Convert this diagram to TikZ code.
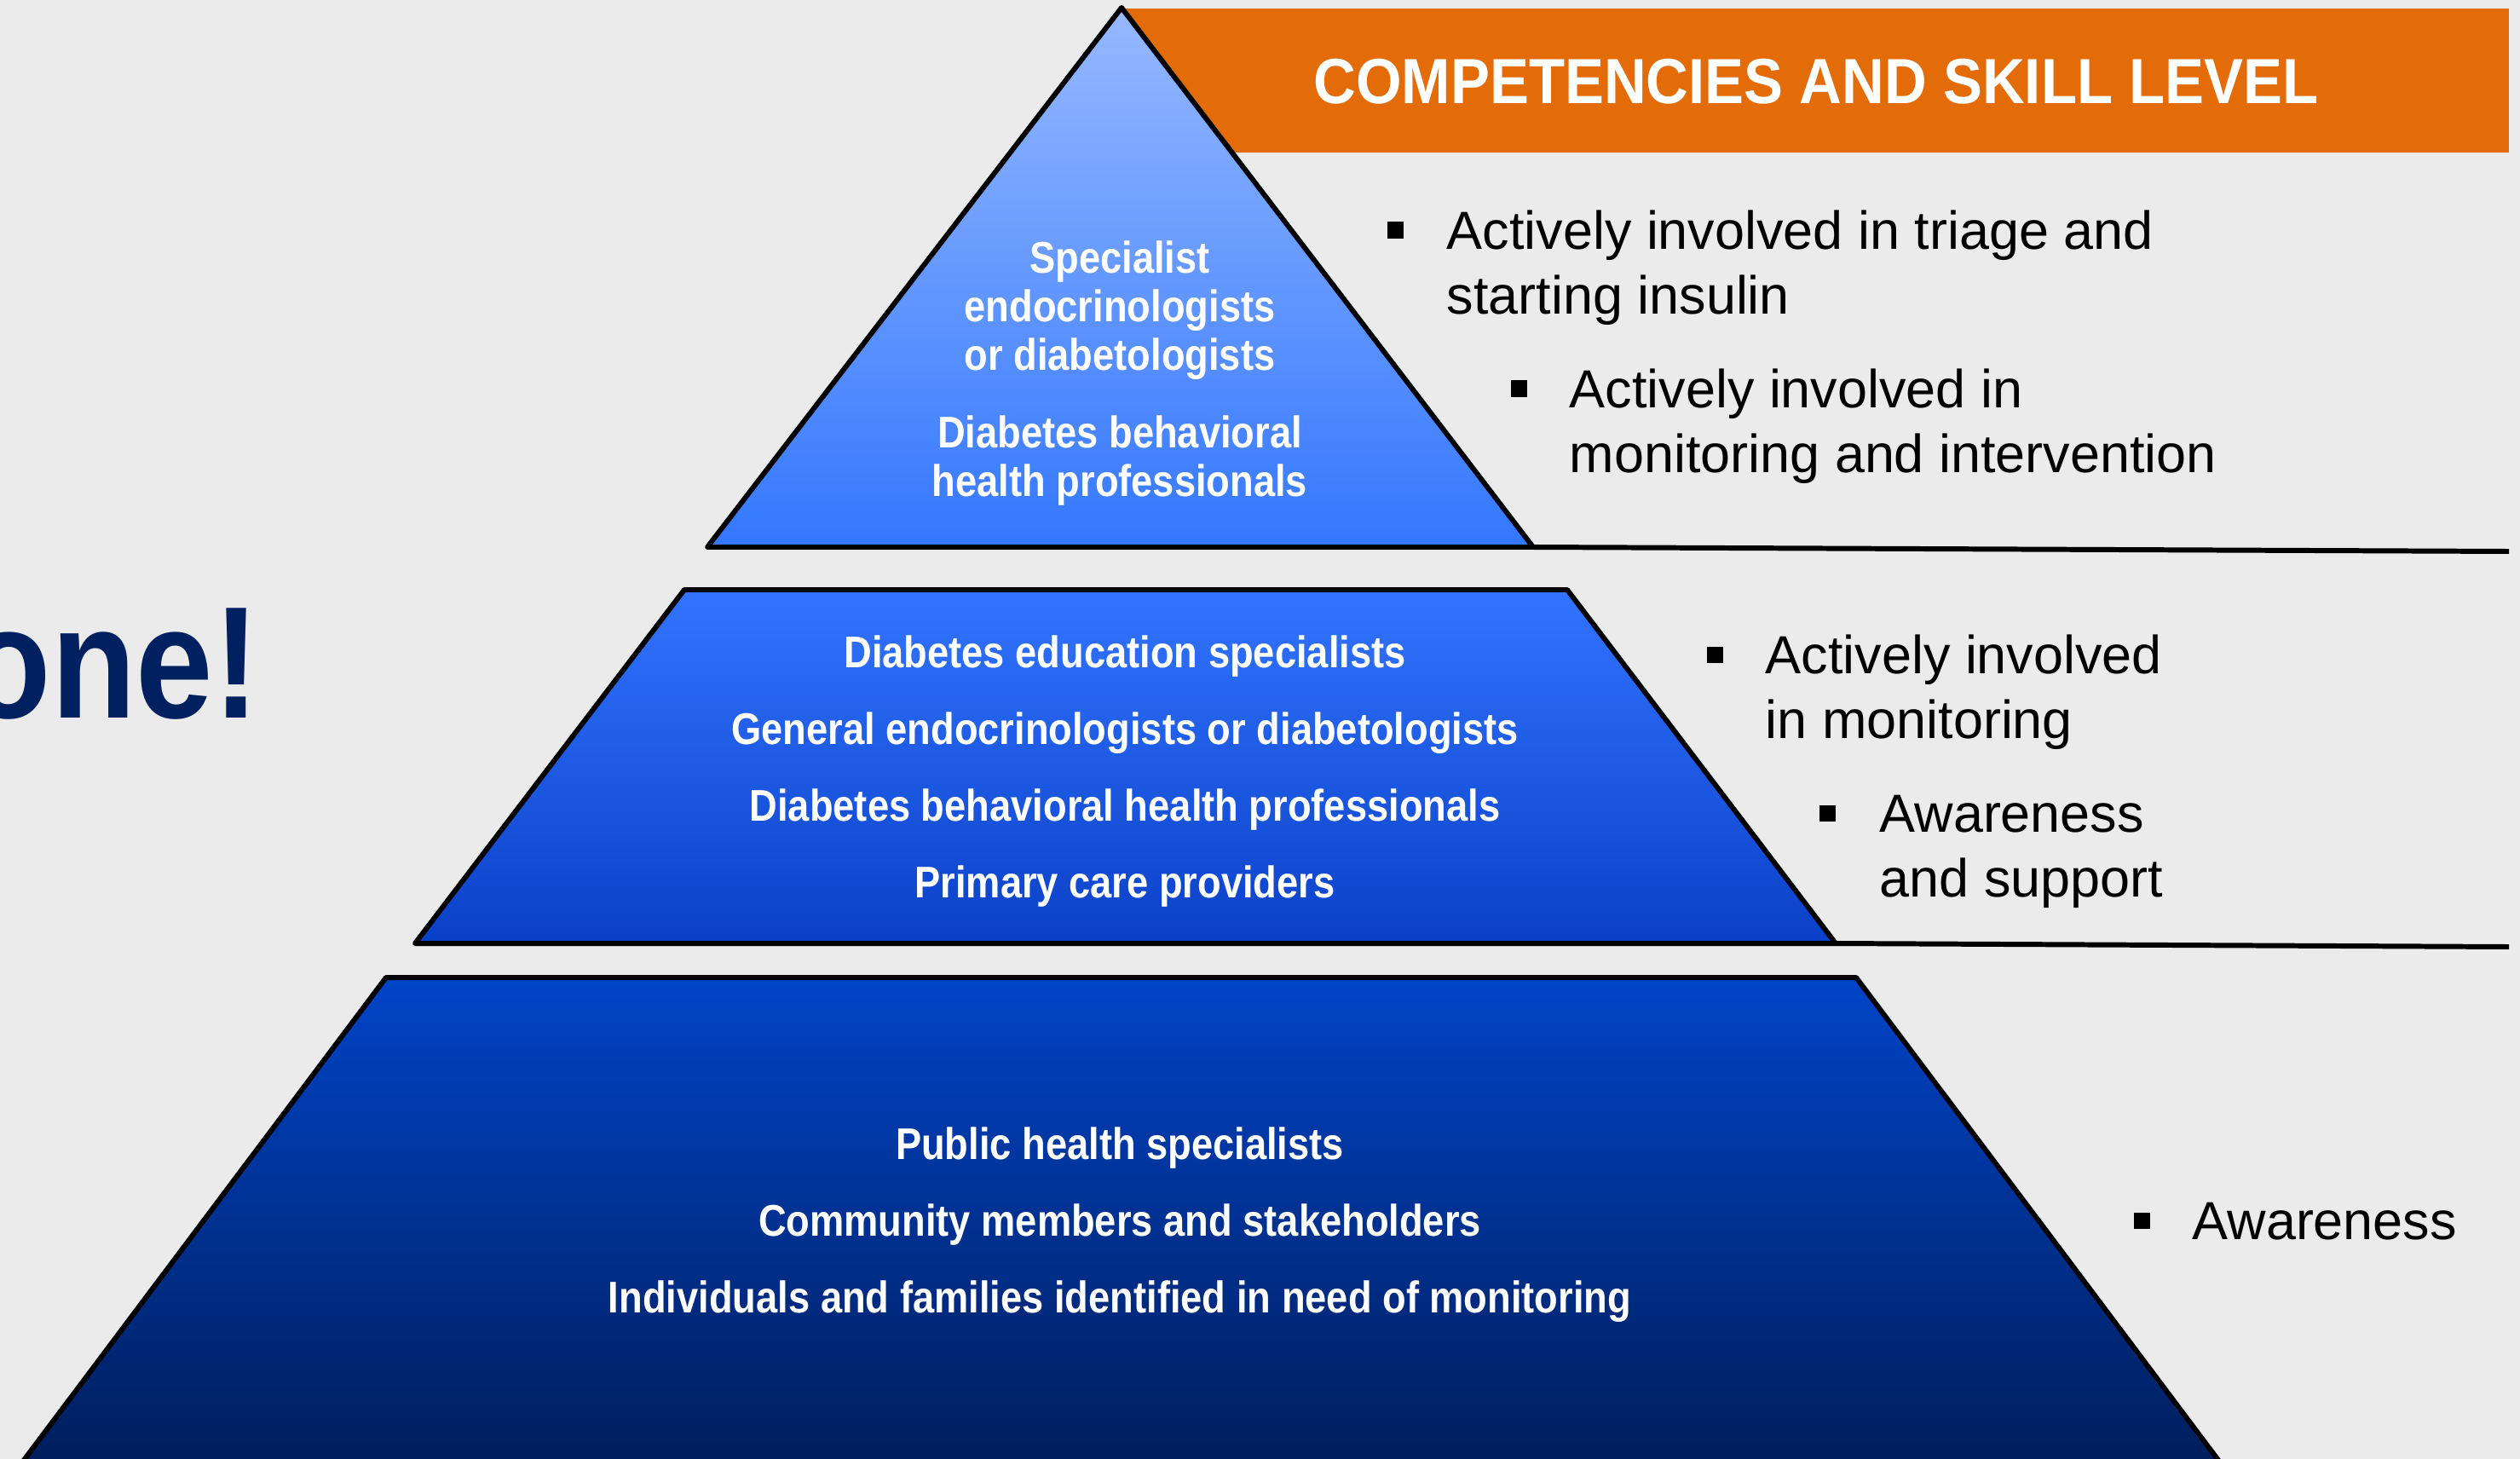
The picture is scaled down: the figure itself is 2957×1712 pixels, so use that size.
\documentclass[tikz,border=0pt]{standalone}
\usepackage{fontspec}
\setmainfont{Liberation Sans}
\newfontfamily\pyrfont[FakeStretch=0.87]{Liberation Sans}
\newfontfamily\bannerfont[FakeStretch=0.92]{Liberation Sans}
\usepackage{xcolor}
\usepackage{tikz}
\usetikzlibrary{positioning}

\definecolor{pagebg}{HTML}{EBEBEB}
\definecolor{bannerorange}{HTML}{E36C09}
\definecolor{navytext}{HTML}{002060}
\definecolor{tiplight}{HTML}{96B9FF}
\definecolor{tipdark}{HTML}{3377FF}
\definecolor{midtop}{HTML}{3274FF}
\definecolor{midbottom}{HTML}{0A40C8}
\definecolor{basetop}{HTML}{0044C8}
\definecolor{basemid}{HTML}{0038A8}
\definecolor{basebottom}{HTML}{001E5C}

\tikzset{
  tierline/.style={draw=black, line width=1.7pt, line join=round},
  splitline/.style={draw=black, line width=1.7pt},
  pyrtext/.style={text=white, font=\pyrfont\bfseries\fontsize{14.8pt}{25.5pt}\selectfont, align=center, anchor=base, inner sep=0pt},
  tiptext/.style={pyrtext, font=\pyrfont\bfseries\fontsize{14.8pt}{16.2pt}\selectfont},
  itemtext/.style={text=black, font=\fontsize{17.9pt}{21.4pt}\selectfont, align=left, anchor=base west, inner sep=0pt},
  bulletsq/.style={fill=black, minimum size=0.19cm, inner sep=0pt}
}

\begin{document}
\begin{tikzpicture}[x=0.01cm, y=-0.01cm]
  \fill[pagebg] (0,0) rectangle (2957,1712);
  \useasboundingbox (0,0) rectangle (2957,1712);
  \clip (0,0) rectangle (2957,1712);

  % title cut at the left edge
  \node[text=navytext, font=\pyrfont\bfseries\fontsize{53.2pt}{60pt}\selectfont, anchor=base east, inner sep=0pt] (slogan) at (305,842) {one!};

  % header banner
  \fill[bannerorange] (1316,10) rectangle (2944,179);
  \node[text=white, font=\bannerfont\bfseries\fontsize{21.3pt}{24pt}\selectfont, anchor=base, inner sep=0pt] (banner) at (2131,121) {COMPETENCIES AND SKILL LEVEL};

  % pyramid tiers
  \draw[tierline, top color=tiplight, bottom color=tipdark] (1316,9) -- (1799,642) -- (830,642) -- cycle;
  \draw[tierline, top color=midtop, bottom color=midbottom] (803,692) -- (1839,692) -- (2154,1107) -- (487,1107) -- cycle;
  \draw[tierline, top color=basetop, middle color=basemid, bottom color=basebottom] (453,1147) -- (2178,1147) -- (2605,1716) -- (26,1716) -- cycle;

  % lines to the right
  \coordinate (tipedge) at (1799,642);
  \coordinate (tipend) at (2944,647);
  \coordinate (midedge) at (2154,1107);
  \coordinate (midend) at (2944,1111);
  \draw[splitline] (tipedge) -- (tipend);
  \draw[splitline] (midedge) -- (midend);

  % who sits in each tier (base = last line)
  \node[tiptext] (tipa) at (1314,434) {Specialist\\endocrinologists\\or diabetologists};
  \node[tiptext] (tipb) at (1314,582) {Diabetes behavioral\\health professionals};
  \node[pyrtext] (midlist) at (1320,1053) {Diabetes education specialists\\General endocrinologists or diabetologists\\Diabetes behavioral health professionals\\Primary care providers};
  \node[pyrtext] (baselist) at (1314,1540) {Public health specialists\\Community members and stakeholders\\Individuals and families identified in need of monitoring};

  % competencies
  \node[bulletsq] (sq1) at (1637,270) {};
  \node[itemtext] (item1) at (1697,368) {Actively involved in triage and\\starting insulin};
  \node[bulletsq] (sq2) at (1782,456) {};
  \node[itemtext] (item2) at (1841,554) {Actively involved in\\monitoring and intervention};
  \node[bulletsq] (sq3) at (2012,768) {};
  \node[itemtext] (item3) at (2071,866) {Actively involved\\in monitoring};
  \node[bulletsq] (sq4) at (2144,954) {};
  \node[itemtext] (item4) at (2205,1052) {Awareness\\and support};
  \node[bulletsq] (sq5) at (2513,1432) {};
  \node[itemtext] (item5) at (2572,1454) {Awareness};
\end{tikzpicture}
\end{document}
